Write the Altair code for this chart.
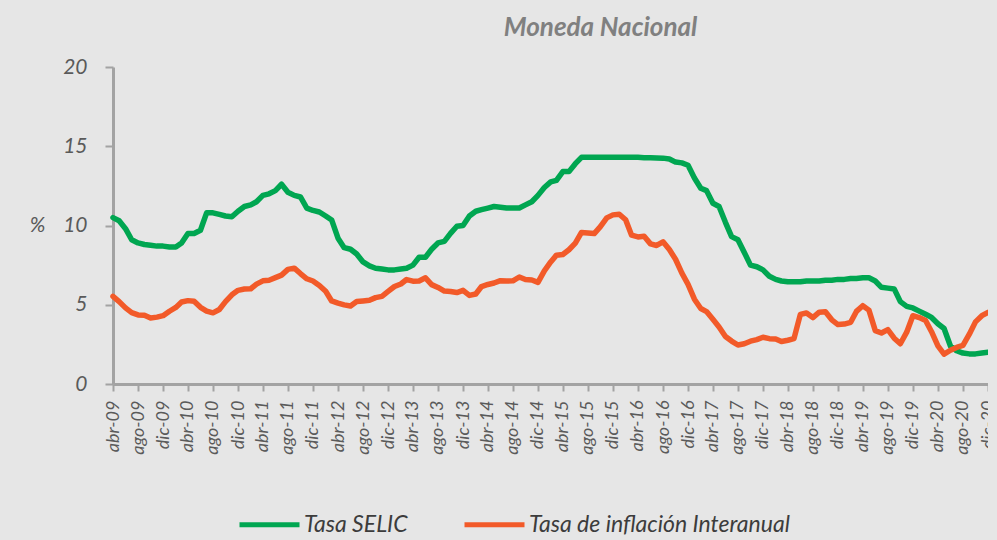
import json
import altair as alt
import pandas as pd

MESES = ["ene", "feb", "mar", "abr", "may", "jun", "jul", "ago", "sep", "oct", "nov", "dic"]
SERIES = ["Tasa SELIC", "Tasa de inflación Interanual"]
COLORES = ["#00a651", "#f25a29"]
Y_TICKS = [0, 5, 10, 15, 20]

# monthly values, abr-09 .. dic-20
SELIC = (
    [10.5, 10.3, 9.8, 9.1, 8.9, 8.8, 8.75, 8.7, 8.7]
    + [8.65, 8.65, 8.9, 9.5, 9.5, 9.7, 10.8, 10.8, 10.7, 10.6, 10.55, 10.9]
    + [11.2, 11.3, 11.5, 11.9, 12.0, 12.2, 12.6, 12.1, 11.9, 11.8, 11.1, 10.95]
    + [10.85, 10.6, 10.35, 9.2, 8.6, 8.5, 8.2, 7.7, 7.45, 7.3, 7.25, 7.2]
    + [7.2, 7.25, 7.3, 7.5, 8.0, 8.0, 8.5, 8.9, 9.0, 9.5, 9.95, 10.0]
    + [10.6, 10.9, 11.0, 11.1, 11.2, 11.15, 11.1, 11.1, 11.1, 11.3, 11.5, 11.9]
    + [12.4, 12.75, 12.85, 13.4, 13.4, 13.9, 14.3, 14.3, 14.3, 14.3, 14.3, 14.3]
    + [14.3, 14.3, 14.3, 14.3, 14.28, 14.27, 14.26, 14.25, 14.2, 14.0, 13.95, 13.8]
    + [13.0, 12.35, 12.2, 11.4, 11.2, 10.2, 9.3, 9.1, 8.3, 7.5, 7.4, 7.2]
    + [6.8, 6.6, 6.5, 6.45, 6.45, 6.45, 6.5, 6.5, 6.5, 6.55, 6.55, 6.6]
    + [6.6, 6.65, 6.65, 6.7, 6.7, 6.5, 6.1, 6.05, 6.0, 5.2, 4.9, 4.8]
    + [4.6, 4.4, 4.2, 3.8, 3.5, 2.4, 2.1, 1.95, 1.9, 1.9, 1.95, 2.0]
)
INFLACION = (
    [5.53, 5.20, 4.80, 4.50, 4.36, 4.34, 4.17, 4.22, 4.31]
    + [4.59, 4.83, 5.17, 5.26, 5.22, 4.84, 4.60, 4.49, 4.70, 5.20, 5.63, 5.91]
    + [5.99, 6.01, 6.30, 6.51, 6.55, 6.71, 6.87, 7.23, 7.31, 6.97, 6.64, 6.50]
    + [6.22, 5.85, 5.24, 5.10, 4.99, 4.92, 5.20, 5.24, 5.28, 5.45, 5.53, 5.84]
    + [6.15, 6.31, 6.59, 6.49, 6.50, 6.70, 6.27, 6.09, 5.86, 5.84, 5.77, 5.91]
    + [5.59, 5.68, 6.15, 6.28, 6.37, 6.52, 6.50, 6.51, 6.75, 6.59, 6.56, 6.41]
    + [7.14, 7.70, 8.13, 8.17, 8.47, 8.89, 9.56, 9.53, 9.49, 9.93, 10.48, 10.67]
    + [10.71, 10.36, 9.39, 9.28, 9.32, 8.84, 8.74, 8.97, 8.48, 7.87, 6.99, 6.29]
    + [5.35, 4.76, 4.57, 4.08, 3.60, 3.00, 2.71, 2.46, 2.54, 2.70, 2.80, 2.95]
    + [2.86, 2.84, 2.68, 2.76, 2.86, 4.39, 4.48, 4.19, 4.53, 4.56, 4.05, 3.75]
    + [3.78, 3.89, 4.58, 4.94, 4.66, 3.37, 3.22, 3.43, 2.89, 2.54, 3.27, 4.31]
    + [4.19, 4.01, 3.30, 2.40, 1.88, 2.13, 2.31, 2.44, 3.14, 3.92, 4.31, 4.52]
)

FECHAS = pd.date_range("2009-04-01", "2020-12-01", freq="MS")
n = len(FECHAS)

df = pd.DataFrame({
    "fecha": list(FECHAS.strftime("%Y-%m-%d")) * 2,
    "serie": [SERIES[0]] * n + [SERIES[1]] * n,
    "valor": SELIC + INFLACION,
})

tick_ms = [int(d.value // 10**6) for d in FECHAS[::4]]
dom = [int(FECHAS[0].value // 10**6), int(FECHAS[-1].value // 10**6)]
label_expr = json.dumps(MESES) + "[utcmonth(datum.value)] + '-' + utcFormat(datum.value, '%y')"

FONT = "Lato"
AXIS_GRAY = "#a3a3a3"
TEXT_GRAY = "#5a5a5a"
BG = "#e6e6e6"

chart = alt.Chart(df).mark_line(strokeWidth=5.5, strokeJoin="round", strokeCap="round").encode(
    x=alt.X(
        "fecha:T",
        scale=alt.Scale(type="utc", domain=dom, nice=False),
        axis=alt.Axis(
            values=tick_ms, labelExpr=label_expr, labelAngle=270, title=None,
            labelFont=FONT, labelFontStyle="italic", labelFontSize=18, labelColor=TEXT_GRAY,
            labelPadding=9, tickSize=7, tickWidth=2, tickColor=AXIS_GRAY,
            domainColor=AXIS_GRAY, domainWidth=3, grid=False, labelOverlap=False,
            labelBound=False,
        ),
    ),
    y=alt.Y(
        "valor:Q",
        scale=alt.Scale(domain=[0, 20], nice=False),
        axis=alt.Axis(
            values=Y_TICKS, title="%", titleAngle=0, titleX=-76, titleY=158,
            titleAlign="center", titleBaseline="middle", titleFont=FONT,
            titleFontStyle="italic", titleFontWeight="normal", titleFontSize=21, titleColor=TEXT_GRAY,
            labelFont=FONT, labelFontStyle="italic", labelFontSize=21, labelColor=TEXT_GRAY,
            labelPadding=18, tickSize=8, tickWidth=2, tickColor=AXIS_GRAY,
            domainColor=AXIS_GRAY, domainWidth=3, grid=False,
        ),
    ),
    color=alt.Color(
        "serie:N",
        scale=alt.Scale(domain=SERIES, range=COLORES),
        legend=alt.Legend(
            title=None, orient="none", legendX=124, legendY=425, direction="horizontal",
            symbolType="stroke", symbolSize=3600, symbolStrokeWidth=5,
            labelFont=FONT, labelFontStyle="italic", labelFontSize=23, labelColor="#3c3c3c",
            labelOffset=2, columnPadding=46, labelLimit=500,
        ),
    ),
).properties(
    width=875,
    height=317,
    title=alt.TitleParams(
        "Moneda Nacional", anchor="middle", dx=50, offset=15, font=FONT,
        fontStyle="italic", fontWeight="bold", fontSize=26, color="#808080",
    ),
    autosize=alt.AutoSizeParams(type="none"),
    padding={"left": 105, "top": 59, "right": 0, "bottom": 156},
    background=BG,
).configure_view(stroke=None)

chart.save(
    "out.html",
    embed_options={
        "renderer": "svg",
        "actions": False,
        "defaultStyle": "body { background: " + BG + "; }",
    },
)
